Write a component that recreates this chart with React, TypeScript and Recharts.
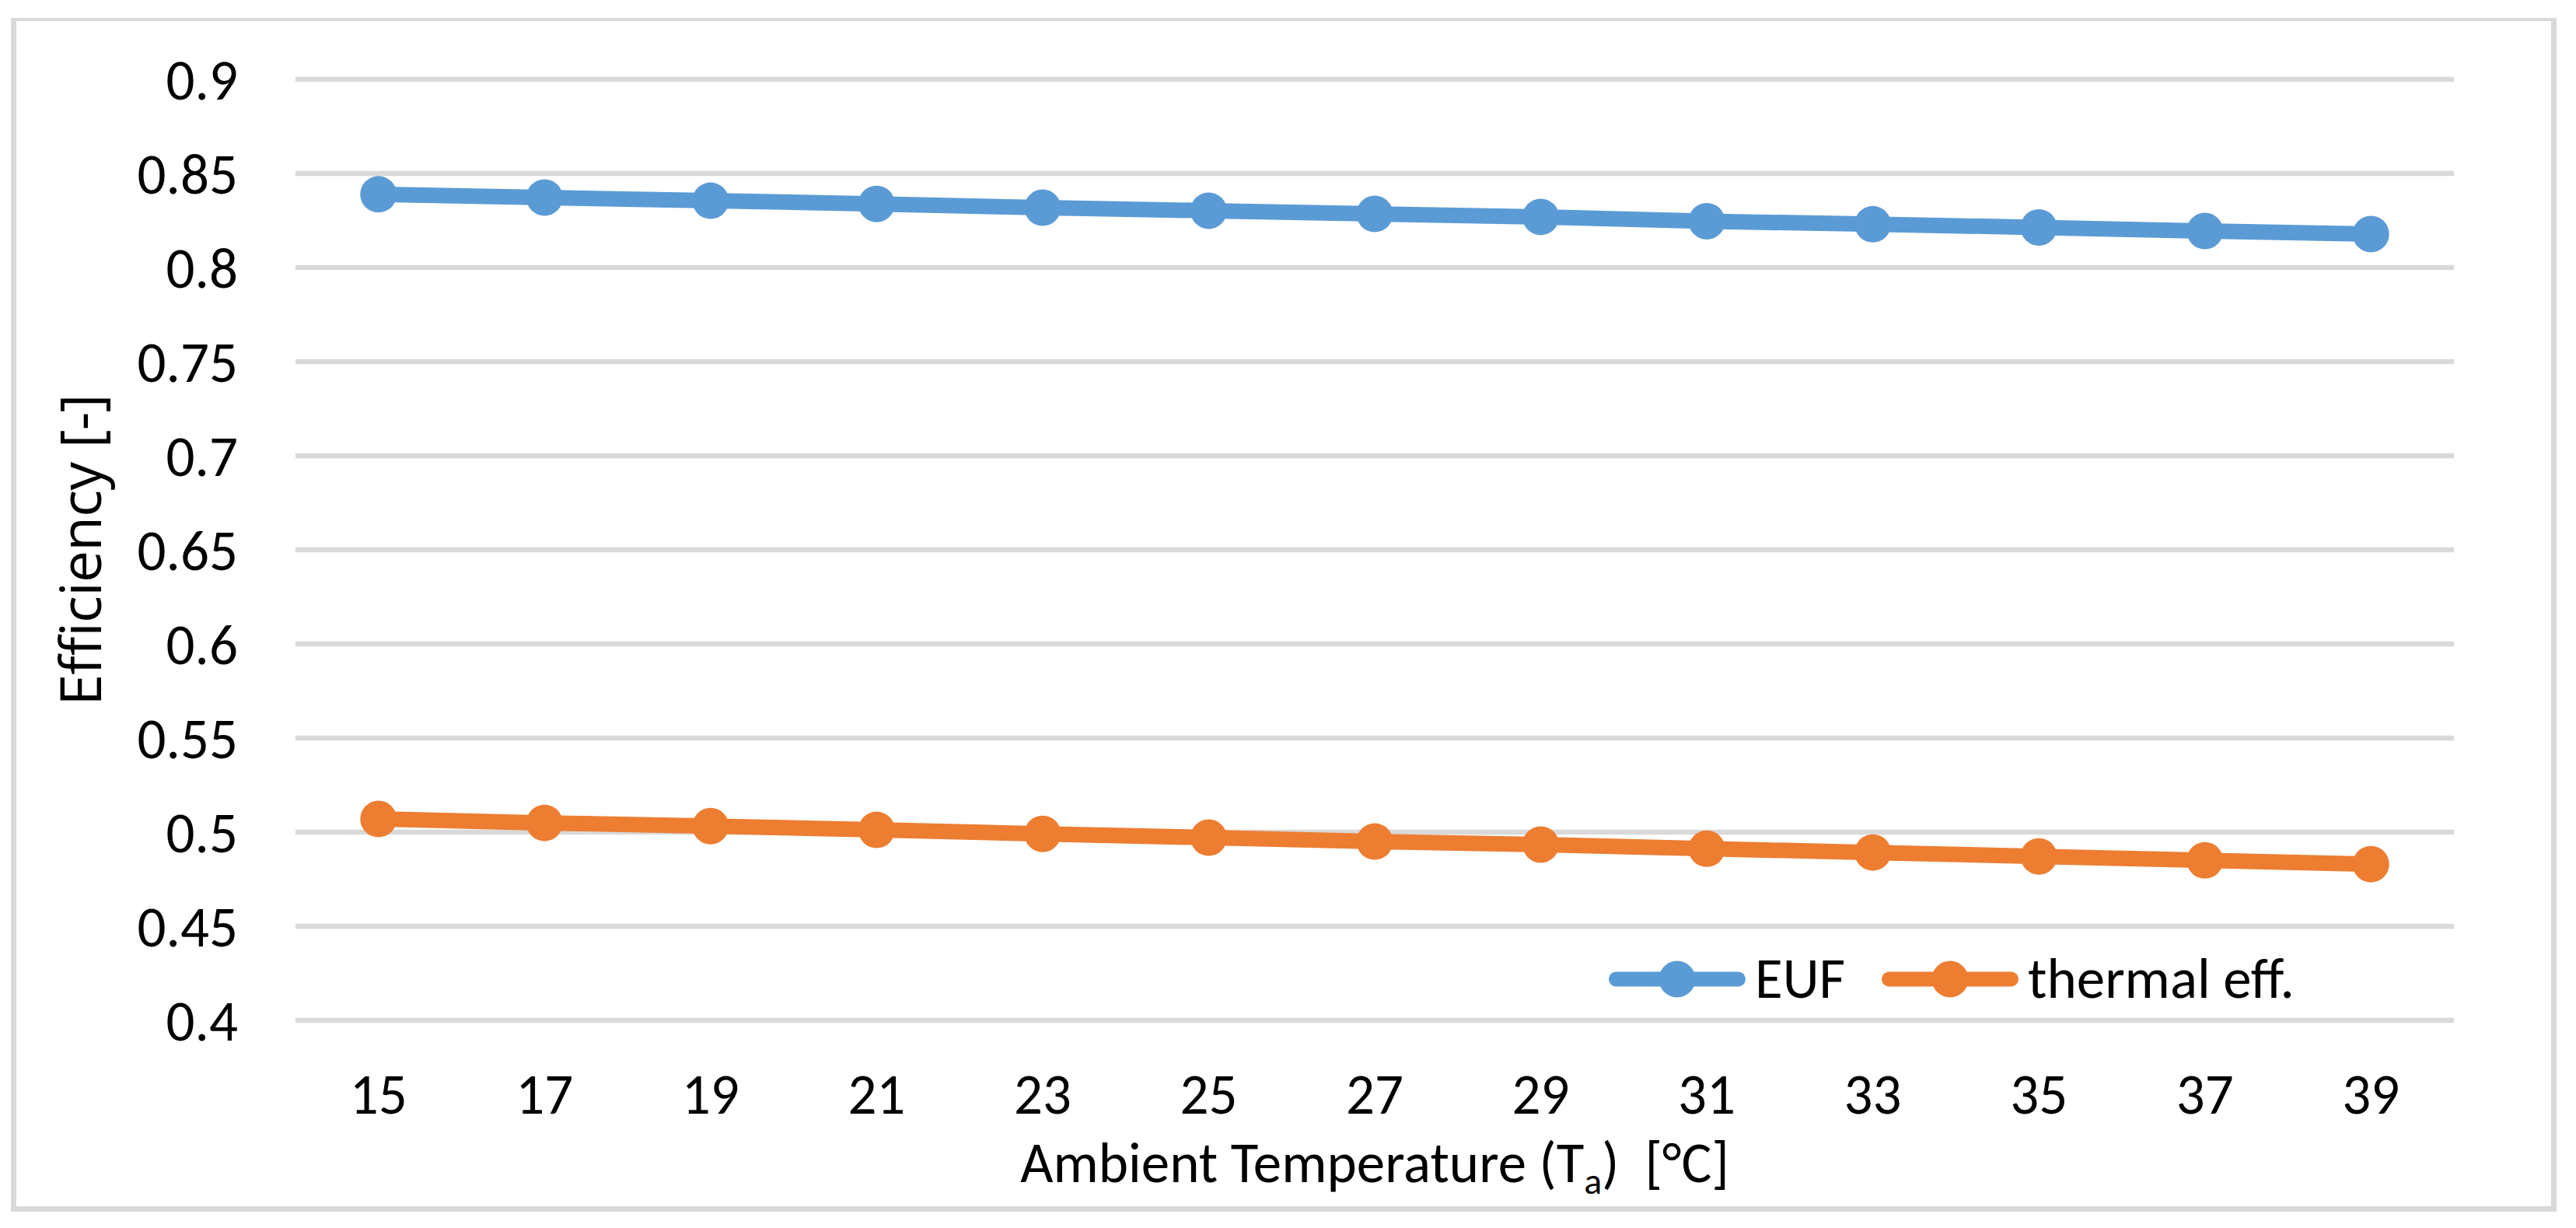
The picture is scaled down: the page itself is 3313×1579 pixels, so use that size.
import { LineChart, Line, XAxis, YAxis, CartesianGrid, Legend } from "recharts";

const temps = [15, 17, 19, 21, 23, 25, 27, 29, 31, 33, 35, 37, 39];
const euf = [0.8389, 0.8372, 0.8355, 0.8338, 0.8318, 0.8302, 0.8285, 0.8269, 0.8246, 0.823, 0.8213, 0.8194, 0.8178];
const thermalEff = [0.507, 0.5049, 0.5032, 0.5012, 0.4991, 0.4971, 0.495, 0.4934, 0.4912, 0.4892, 0.4871, 0.485, 0.483];
const yTicks = [0.4, 0.45, 0.5, 0.55, 0.6, 0.65, 0.7, 0.75, 0.8, 0.85, 0.9];

const BLUE = "#5b9bd5";
const ORANGE = "#ed7d31";
const GRID = "#d9d9d9";
const FONT = "Carlito, Calibri, Lato, sans-serif";
const FS = 73;

const data = temps.map((t, i) => ({ t, euf: euf[i], thermal: thermalEff[i] }));

const fmt = (v: number) => String(Number(v.toFixed(2)));

function XTitle(props: any) {
  const vb = props.viewBox || { x: 380, y: 1312, width: 2776, height: 267 };
  const cx = vb.x + vb.width / 2;
  return (
    <text x={cx} y={vb.y + 208} textAnchor="middle" fontFamily={FONT} fontSize={FS} fill="#000" style={{ whiteSpace: "pre" }}>
      <tspan>Ambient Temperature (T</tspan>
      <tspan fontSize={48} dy={15}>a</tspan>
      <tspan dy={-15}>)  [°C]</tspan>
    </text>
  );
}

function YTitle(props: any) {
  const vb = props.viewBox || { x: 0, y: 102, width: 380, height: 1210 };
  const x = 130;
  const y = vb.y + vb.height / 2;
  return (
    <text
      x={x}
      y={y}
      transform={`rotate(-90, ${x}, ${y})`}
      textAnchor="middle"
      fontFamily="'Open Sans', sans-serif"
      fontSize={73}
      textLength={401}
      lengthAdjust="spacing"
      fill="#000"
    >
      Efficiency [-]
    </text>
  );
}

function LegendContent(props: any) {
  const items = props.payload || [];
  return (
    <div style={{ display: "flex", alignItems: "center", fontFamily: FONT, fontSize: FS, color: "#000", whiteSpace: "nowrap" }}>
      {items.map((it: any, i: number) => (
        <div key={i} style={{ display: "flex", alignItems: "center", marginRight: 45 }}>
          <svg width={180} height={52} style={{ display: "block" }}>
            <line x1={11.5} y1={26} x2={168.5} y2={26} stroke={it.color} strokeWidth={19} strokeLinecap="round" />
            <circle cx={90} cy={26} r={23.5} fill={it.color} />
          </svg>
          <span style={{ marginLeft: 10, lineHeight: 1 }}>{it.value}</span>
        </div>
      ))}
    </div>
  );
}

export default function App() {
  return (
    <div style={{ position: "absolute", left: 0, top: 0, width: 3313, height: 1579, background: "#fff" }}>
      <div
        style={{
          position: "absolute",
          left: 14,
          top: 23,
          width: 3274,
          height: 1535,
          boxSizing: "border-box",
          borderStyle: "solid",
          borderColor: GRID,
          borderWidth: "4px 7px 7px 7px",
        }}
      />
      <div style={{ position: "absolute", left: 0, top: 0 }}>
        <LineChart width={3313} height={1579} data={data} margin={{ top: 102, right: 157, bottom: 0, left: 0 }}>
          <CartesianGrid vertical={false} stroke={GRID} strokeWidth={6.7} />
          <XAxis
            dataKey="t"
            type="number"
            domain={[14, 40]}
            ticks={temps}
            height={267}
            axisLine={false}
            tickLine={false}
            tickSize={0}
            tickMargin={68}
            tick={{ fontFamily: FONT, fontSize: FS, fill: "#000" }}
            label={<XTitle />}
          />
          <YAxis
            type="number"
            domain={[0.4, 0.9]}
            ticks={yTicks}
            width={380}
            axisLine={false}
            tickLine={false}
            tickSize={0}
            tickMargin={74}
            tickFormatter={fmt}
            tick={{ fontFamily: FONT, fontSize: FS, fill: "#000" }}
            label={<YTitle />}
          />
          <Legend
            verticalAlign="middle"
            align="center"
            layout="horizontal"
            content={<LegendContent />}
            wrapperStyle={{ position: "absolute", left: 2067, top: 1222, width: "auto", height: "auto" }}
          />
          <Line
            name="EUF"
            dataKey="euf"
            type="linear"
            stroke={BLUE}
            strokeWidth={20}
            strokeLinejoin="round"
            dot={{ r: 23.5, fill: BLUE, stroke: BLUE, strokeWidth: 0 }}
            activeDot={false}
            isAnimationActive={false}
          />
          <Line
            name="thermal eff."
            dataKey="thermal"
            type="linear"
            stroke={ORANGE}
            strokeWidth={20}
            strokeLinejoin="round"
            dot={{ r: 23.5, fill: ORANGE, stroke: ORANGE, strokeWidth: 0 }}
            activeDot={false}
            isAnimationActive={false}
          />
        </LineChart>
      </div>
    </div>
  );
}
